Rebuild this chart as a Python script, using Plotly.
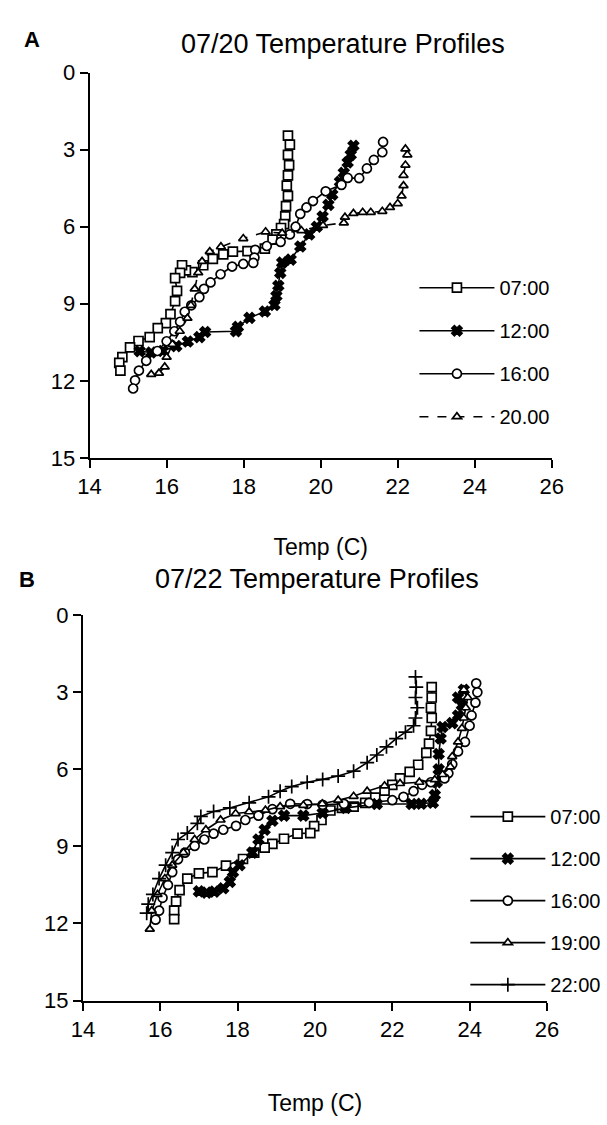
import plotly.graph_objects as go

W, H = 607, 1125

# ---------------- Panel A: 07/20 ----------------
a_0700_t = [19.15, 19.2, 19.15, 19.18, 19.15, 19.12, 19.15, 19.1, 19.08, 19.05, 18.97, 18.85, 18.75, 18.55,
            18.1, 17.72, 17.47, 17.2, 16.95, 16.67, 16.5, 16.4, 16.35, 16.22, 16.27, 16.22, 16.1, 15.98,
            15.77, 15.56, 15.27, 15.05, 14.85, 14.77, 14.8]
a_0700_d = [2.45, 2.8, 3.2, 3.6, 4.0, 4.4, 4.8, 5.2, 5.6, 5.9, 6.05, 6.3, 6.5, 6.85,
            6.95, 6.97, 7.08, 7.25, 7.5, 7.77, 7.7, 7.5, 7.8, 8.0, 8.5, 8.9, 9.4, 9.75,
            9.95, 10.3, 10.45, 10.7, 11.08, 11.3, 11.6]

a_1200_t = [20.85, 20.78, 20.7, 20.6, 20.5, 20.3, 20.2, 20.05, 19.9, 19.7, 19.47, 19.22, 19.0, 18.95,
            18.9, 18.85, 18.8, 18.55, 18.15, 17.85, 17.8, 17.0, 16.85, 16.55, 16.25, 15.9, 15.6, 15.3]
a_1200_d = [2.85, 3.2, 3.5, 3.9, 4.25, 4.75, 5.15, 5.6, 6.0, 6.3, 6.77, 7.28, 7.4, 7.8,
            8.3, 8.7, 9.05, 9.3, 9.55, 9.9, 10.07, 10.1, 10.3, 10.47, 10.65, 10.84, 10.9, 10.85]

a_1600_t = [21.62, 21.6, 21.38, 21.2, 21.0, 20.7, 20.54, 20.13, 19.8, 19.63, 19.47, 19.35, 19.2, 18.96,
            18.6, 18.3, 18.28, 18.25, 17.99, 17.7, 17.4, 17.14, 16.97, 16.85, 16.64, 16.47, 16.35, 16.2,
            16.0, 15.76, 15.47, 15.28, 15.18, 15.13]
a_1600_d = [2.7, 3.1, 3.4, 3.73, 4.11, 4.1, 4.37, 4.62, 5.0, 5.25, 5.5, 6.0, 6.3, 6.59,
            6.75, 6.9, 7.2, 7.41, 7.45, 7.55, 7.85, 8.17, 8.42, 8.74, 9.06, 9.31, 9.7, 10.07,
            10.46, 10.84, 11.22, 11.6, 11.98, 12.3]

a_2000_t = [22.2, 22.25, 22.2, 22.15, 22.15, 22.1, 22.0, 21.8, 21.6, 21.3, 21.09, 20.85, 20.63, 20.6,
            20.06, 19.5, 19.0, 18.57, 17.99, 17.41, 17.12, 16.92, 16.82, 16.73, 16.63, 16.54, 16.34,
            16.15, 16.0, 15.95, 15.8, 15.6]
a_2000_d = [2.97, 3.2, 3.6, 4.0, 4.4, 4.8, 5.1, 5.25, 5.4, 5.44, 5.44, 5.48, 5.63, 5.85,
            5.95, 6.15, 6.25, 6.2, 6.46, 6.78, 6.97, 7.35, 7.79, 8.42, 9.06, 9.56, 10.07,
            10.58, 11.08, 11.46, 11.7, 11.75]

# ---------------- Panel B: 07/22 ----------------
b_0700_t = [23.02, 23.02, 23.0, 23.02, 23.0, 22.95, 22.88, 22.67, 22.45, 22.2, 22.0, 21.8, 21.56, 21.3,
            21.0, 20.7, 20.4, 20.17, 19.98, 19.88, 19.55, 19.2, 18.9, 18.7, 18.43, 18.14, 17.7, 17.35,
            17.0, 16.7, 16.5, 16.41, 16.36, 16.36]
b_0700_d = [2.8, 3.2, 3.6, 4.0, 4.5, 5.0, 5.36, 5.82, 6.1, 6.35, 6.6, 6.83, 7.1, 7.3,
            7.45, 7.5, 7.6, 7.97, 8.21, 8.48, 8.5, 8.7, 8.9, 9.05, 9.24, 9.49, 9.75, 10.0,
            10.05, 10.25, 10.7, 11.14, 11.5, 11.83]

b_1200_t = [23.85, 23.7, 23.8, 23.7, 23.55, 23.3, 23.25, 23.2, 23.2, 23.15, 23.1, 23.05, 22.75, 22.5,
            21.6, 20.8, 20.2, 19.7, 19.2, 18.9, 18.7, 18.54, 18.38, 18.05, 17.88, 17.8, 17.63, 17.4,
            17.2, 17.0]
b_1200_d = [2.9, 3.2, 3.5, 3.9, 4.2, 4.35, 4.8, 5.4, 6.0, 6.5, 7.0, 7.3, 7.34, 7.35,
            7.35, 7.5, 7.7, 7.8, 7.8, 8.0, 8.35, 8.73, 9.24, 9.73, 10.0, 10.38, 10.63, 10.76,
            10.8, 10.75]

b_1600_t = [24.17, 24.2, 24.15, 24.05, 24.0, 23.88, 23.7, 23.55, 23.45, 23.35, 23.0, 22.77, 22.55, 22.29,
            22.0, 21.4, 20.75, 20.2, 19.8, 19.36, 18.9, 18.54, 18.2, 17.96, 17.63, 17.38, 17.14, 16.89,
            16.64, 16.46, 16.31, 16.2, 16.06, 15.97, 15.88]
b_1600_d = [2.65, 3.0, 3.4, 3.9, 4.3, 4.93, 5.3, 5.8, 6.15, 6.35, 6.5, 6.6, 6.85, 7.07,
            7.2, 7.3, 7.34, 7.38, 7.35, 7.34, 7.55, 7.8, 7.97, 8.2, 8.35, 8.5, 8.73, 8.98,
            9.24, 9.5, 10.0, 10.5, 11.0, 11.5, 11.85]

b_1900_t = [23.85, 23.95, 23.9, 23.85, 23.8, 23.7, 23.55, 23.5, 23.3, 23.1, 22.7, 22.2, 21.8, 21.35,
            21.0, 20.6, 20.19, 19.7, 19.1, 18.72, 18.3, 17.95, 17.56, 17.18, 16.89, 16.6, 16.31, 16.12,
            15.93, 15.78, 15.73]
b_1900_d = [2.9, 3.2, 3.6, 4.0, 4.4, 4.93, 5.5, 5.9, 6.2, 6.4, 6.5, 6.55, 6.64, 6.85,
            7.05, 7.2, 7.34, 7.4, 7.45, 7.59, 7.65, 7.72, 7.97, 8.35, 8.73, 9.24, 9.73, 10.25,
            10.87, 11.5, 12.22]

b_2200_t = [22.6, 22.62, 22.6, 22.65, 22.6, 22.55, 22.34, 22.1, 21.85, 21.6, 21.35, 21.0, 20.6, 20.2,
            19.8, 19.4, 19.1, 18.8, 18.3, 17.8, 17.38, 17.05, 16.96, 16.7, 16.46, 16.31, 16.14, 15.97,
            15.81, 15.69, 15.65]
b_2200_d = [2.4, 2.8, 3.2, 3.6, 4.0, 4.3, 4.55, 4.8, 5.12, 5.44, 5.74, 6.07, 6.26, 6.39,
            6.5, 6.67, 6.85, 7.07, 7.3, 7.5, 7.64, 7.83, 8.1, 8.48, 8.73, 9.24, 9.73, 10.25,
            10.87, 11.25, 11.6]

x_ticks = [14, 16, 18, 20, 22, 24, 26]
y_ticks = [0, 3, 6, 9, 12, 15]

FONT = "Liberation Sans, Arial, sans-serif"

fig = go.Figure()

def add(t, d, name, symbol, size, xa, ya, leg, dash="solid", filled=False):
    fig.add_trace(go.Scatter(
        x=t, y=d, name=name, mode="lines+markers",
        xaxis=xa, yaxis=ya, legend=leg, legendgroup=leg + name,
        line=dict(color="black", width=1.6, dash=dash),
        marker=dict(symbol=symbol, size=size,
                    color="black" if filled else "white",
                    line=dict(color="black", width=1.7)),
    ))

add(a_0700_t, a_0700_d, "07:00", "square", 9, "x", "y", "legend")
add(a_1200_t, a_1200_d, "12:00", "x", 9, "x", "y", "legend", filled=True)
add(a_1600_t, a_1600_d, "16:00", "circle", 9, "x", "y", "legend")
add(a_2000_t, a_2000_d, "20.00", "triangle-up", 8, "x", "y", "legend", dash="dash")

add(b_0700_t, b_0700_d, "07:00", "square", 9, "x2", "y2", "legend2")
add(b_1200_t, b_1200_d, "12:00", "x", 9, "x2", "y2", "legend2", filled=True)
add(b_1600_t, b_1600_d, "16:00", "circle", 9, "x2", "y2", "legend2")
add(b_1900_t, b_1900_d, "19:00", "triangle-up", 8, "x2", "y2", "legend2")
add(b_2200_t, b_2200_d, "22:00", "cross-thin", 10, "x2", "y2", "legend2")

axis_common = dict(
    showline=True, linecolor="black", linewidth=2,
    ticks="outside", ticklen=8, tickwidth=2, tickcolor="black",
    showgrid=False, zeroline=False,
    tickfont=dict(family=FONT, size=22, color="black"),
)

fig.update_layout(
    width=W, height=H,
    margin=dict(l=0, r=0, t=0, b=0),
    paper_bgcolor="white", plot_bgcolor="white",
    font=dict(family=FONT, color="black"),
    xaxis=dict(domain=[80.8 / W, 562 / W], range=[14, 26], tickvals=x_ticks, anchor="y",
               title=dict(text="Temp (C)", font=dict(family=FONT, size=23), standoff=41),
               **axis_common),
    yaxis=dict(domain=[1 - 456 / H, 1 - 62 / H], range=[15, 0], tickvals=y_ticks, anchor="x",
               **axis_common),
    xaxis2=dict(domain=[73.8 / W, 557 / W], range=[14, 26], tickvals=x_ticks, anchor="y2",
                title=dict(text="Temp (C)", font=dict(family=FONT, size=23), standoff=54),
                **axis_common),
    yaxis2=dict(domain=[1 - 1011 / H, 1 - 617 / H], range=[15, 0], tickvals=y_ticks, anchor="x2",
                **axis_common),
    legend=dict(x=419 / W, y=1 - 262 / H, xanchor="left", yanchor="top",
                font=dict(family=FONT, size=20), bgcolor="rgba(0,0,0,0)",
                tracegroupgap=14, itemwidth=75),
    legend2=dict(x=472 / W, y=1 - 803 / H, xanchor="left", yanchor="top",
                 font=dict(family=FONT, size=20), bgcolor="rgba(0,0,0,0)",
                 tracegroupgap=13, itemwidth=75),
    showlegend=True,
    annotations=[
        dict(text="07/20 Temperature Profiles", x=344.7 / W, y=1 - 33 / H, xref="paper", yref="paper",
             showarrow=False, font=dict(family=FONT, size=27), xanchor="center", yanchor="middle"),
        dict(text="<b>A</b>", x=21 / W, y=1 - 28 / H, xref="paper", yref="paper",
             showarrow=False, font=dict(family=FONT, size=22), xanchor="center", yanchor="middle"),
        dict(text="07/22 Temperature Profiles", x=317.5 / W, y=1 - 580 / H, xref="paper", yref="paper",
             showarrow=False, font=dict(family=FONT, size=27), xanchor="center", yanchor="middle"),
        dict(text="<b>B</b>", x=15.5 / W, y=1 - 580 / H, xref="paper", yref="paper",
             showarrow=False, font=dict(family=FONT, size=22), xanchor="center", yanchor="middle"),
    ],
)

fig.write_html("out.html")
